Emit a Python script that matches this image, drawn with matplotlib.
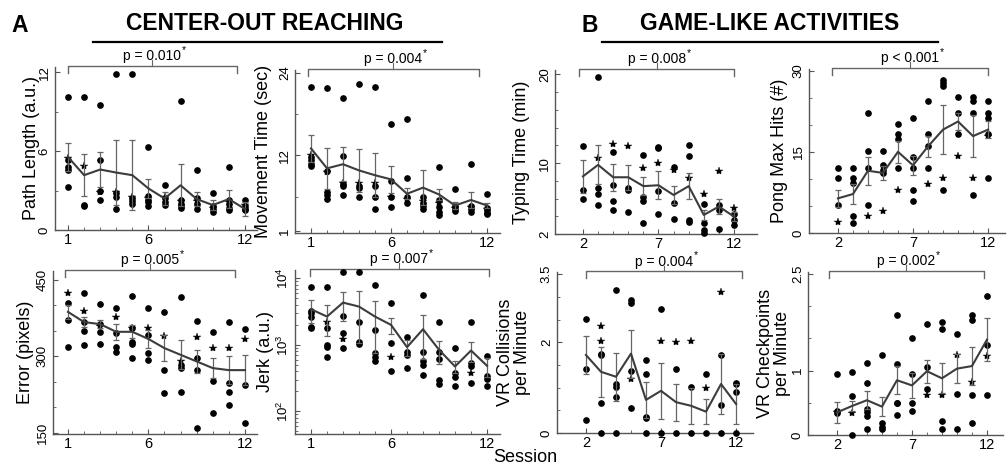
import matplotlib
matplotlib.use("Agg")
import matplotlib.pyplot as plt
import matplotlib.transforms as mtrans
from matplotlib.ticker import FixedLocator

plt.rcParams['font.family'] = ['Liberation Sans', 'DejaVu Sans']
plt.rcParams['mathtext.fontset'] = 'custom'
plt.rcParams['mathtext.rm'] = 'Liberation Sans'
plt.rcParams['mathtext.it'] = 'Liberation Sans:italic'

# ---------------- data ----------------
sessions_a = [1, 2, 3, 4, 5, 6, 7, 8, 9, 10, 11, 12]
sessions_b = [2, 3, 4, 5, 6, 7, 8, 9, 10, 11, 12]
xticks_a = [1, 6, 12]
xticks_b = [2, 7, 12]

# Path length
path_mean = [5.55, 4.17, 4.6, 4.37, 4.17, 3.16, 2.4, 3.4, 2.35, 1.9, 2.35, 1.6]
path_sem = [1.05, 1.6, 1.35, 2.5, 2.65, 0.75, 0.5, 1.6, 0.55, 0.4, 0.7, 0.55]
path_dots = [[10.1, 5.3, 4.8, 4.6, 3.3], [10.1, 1.9, 1.8], [9.5, 5.3, 3.0, 2.3],
             [11.9, 2.8, 2.5, 1.6], [11.9, 2.4, 2.2, 2.0], [6.3, 2.6, 2.3, 2.1, 1.8],
             [3.4, 2.4, 2.1, 1.9], [9.85, 2.3, 2.0, 1.8, 1.7], [4.55, 2.4, 2.0, 1.6],
             [2.8, 1.8, 1.6, 1.4], [4.8, 2.3, 2.0, 1.7, 1.5], [2.3, 1.8, 1.6, 1.5]]
path_stars = [[5.5], [4.9], [2.9], [2.9], [2.5], [2.4], [2.5], [2.2], [2.2], [1.7], [2.1], [1.9]]
path_yticks = [0, 6, 12]
path_yticklabels = ["0", "6", "12"]
path_p = "p = 0.010"

# Movement time
move_mean = [13.0, 10.1, 10.7, 9.8, 9.1, 8.5, 6.4, 7.3, 6.3, 4.7, 5.5, 4.7]
move_sem = [2.0, 3.0, 2.5, 3.1, 3.2, 2.0, 0.8, 2.5, 0.85, 0.5, 1.15, 0.4]
move_dots = [[21.9, 11.8, 11.3, 10.8, 10.5], [21.8, 9.7, 6.7, 6.2, 5.7], [20.3, 11.9, 7.8, 7.5, 6.2],
             [22.3, 7.5, 7.2, 5.9], [22.0, 7.5, 5.9, 4.2], [16.6, 8.3, 5.9, 4.5],
             [17.3, 8.7, 6.0, 5.0], [6.0, 5.0, 4.6, 4.2], [10.3, 5.5, 4.5, 3.8, 3.3],
             [7.1, 4.6, 4.2, 3.9], [10.7, 4.6, 4.2, 3.8], [6.3, 4.4, 4.0, 3.6, 3.4]]
move_stars = [[12.0], [9.6], [8.0], [8.0], [8.0], [6.0], [5.6], [5.4], [5.0], [4.3], [4.5], [4.2]]
move_yticks = [1, 12, 24]
move_yticklabels = ["1", "12", "24"]
move_p = "p = 0.004"

# Typing time
type_mean = [8.5, 9.8, 8.4, 8.4, 7.4, 7.5, 6.4, 7.4, 4.15, 5.1, 3.96]
type_sem = [1.9, 2.2, 1.5, 1.4, 1.0, 1.6, 1.0, 1.5, 0.6, 0.8, 0.5]
type_dots = [[11.9, 7.0, 6.0], [19.7, 7.2, 6.5, 5.3], [11.2, 7.5, 5.7, 4.7], [7.2, 7.0, 4.5],
             [10.9, 6.2, 5.7, 3.2], [11.8, 11.7, 6.8, 4.3], [9.6, 5.5, 3.7], [12.0, 10.8, 3.6, 3.4],
             [5.4, 3.2, 2.5, 2.15], [5.3, 4.7, 2.6], [4.3, 3.6, 3.0]]
type_stars = [[], [10.6], [12.1], [11.9], [9.4], [10.0], [9.2], [8.3], [6.5], [9.1], [4.9]]
type_yticks = [2, 10, 20]
type_yticklabels = ["2", "10", "20"]
type_p = "p = 0.008"

# Pong max hits
pong_mean = [6.4, 7.2, 11.5, 11.1, 15.0, 12.5, 16.0, 19.1, 20.6, 17.9, 19.1]
pong_sem = [1.6, 1.8, 2.6, 1.3, 2.0, 1.7, 2.0, 4.5, 1.5, 3.9, 1.6]
pong_dots = [[12.1, 10.2, 5.1], [12.1, 10.2, 9.2, 3.1, 1.9], [22.2, 15.2, 12.1, 5.1],
             [15.2, 12.5, 11.6, 11.0], [20.2, 18.3, 17.3, 12.1], [21.2, 14.1, 12.1, 8.0, 5.9],
             [24.3, 18.3, 16.0, 12.1], [28.3, 27.7, 27.2, 7.9], [25.2, 22.2, 18.3],
             [25.2, 24.3, 22.2, 7.0], [24.3, 22.2, 21.2, 18.3, 10.2]]
pong_stars = [[2.0], [], [3.1], [4.1], [8.0], [], [9.1], [10.2], [14.2], [10.2], [18.0]]
pong_yticks = [0, 15, 30]
pong_yticklabels = ["0", "15", "30"]
pong_p = "p < 0.001"

# Error
err_mean = [387, 367, 363, 348, 348, 334, 316, 303, 290, 277, 273, 273]
err_sem = [13, 10, 8, 16, 13, 17, 26, 28, 23, 20, 27, 30]
err_dots = [[405, 372, 318], [424, 367, 350, 323], [402, 364, 348, 325], [395, 345, 318, 309],
            [418, 356, 329, 325, 296], [394, 342, 307, 292], [387, 273, 229], [416, 283, 277, 231],
            [369, 296, 273, 160], [348, 251, 189], [367, 247, 231, 205], [353, 243, 169]]
err_stars = [[423], [388], [360], [377], [355], [355], [340], [290], [338], [316], [316], [333]]
err_yticks = [150, 300, 450]
err_yticklabels = ["150", "300", "450"]
err_p = "p = 0.005"

# Jerk
jerk_mean = [3430, 2660, 4315, 3760, 2660, 1995, 923, 1718, 842, 473, 822, 484]
jerk_sem = [1300, 1320, 2000, 2700, 1900, 520, 240, 1100, 320, 90, 270, 150]
jerk_dots = [[7330, 3270, 2990, 2660, 1880, 1780], [7500, 1780, 1000, 944, 653],
             [12590, 2720, 1500, 891], [12590, 2240, 1122, 1035], [7940, 1680, 750, 668, 562],
             [4315, 1059, 398], [1303, 794, 708, 447], [5620, 794, 562, 501, 355],
             [2240, 794, 610, 298, 260], [891, 376, 327, 237], [2240, 531, 484, 266],
             [684, 343, 305, 243]]
jerk_stars = [[], [2200], [1216], [], [], [653], [], [], [], [], [376], []]
jerk_yticks = [100, 1000, 10000]
jerk_yticklabels = ["$10^2$", "$10^3$", "$10^4$"]
jerk_p = "p = 0.007"

# VR collisions
coll_mean = [1.72, 1.35, 1.24, 1.75, 0.73, 0.93, 0.68, 0.6, 0.47, 1.08, 0.64]
coll_sem = [0.41, 0.55, 0.53, 0.53, 0.4, 0.62, 0.41, 0.4, 0.27, 0.67, 0.44]
coll_dots = [[2.52, 1.42, 0.29], [1.75, 1.72, 0.66, 0], [3.15, 1.08, 1.02, 0.8, 0],
             [2.93, 2.86, 1.37, 0.55], [1.62, 1.3, 0.36, 0.33, 0], [2.74, 0], [1.42, 0],
             [1.02, 0], [1.31, 0], [1.72, 0.62, 0], [1.11, 1.07, 0.91, 0]]
coll_stars = [[], [2.37, 2.03], [], [1.18], [], [2.02], [2.0], [2.03], [1.0], [3.12], []]
coll_yticks = [0, 2, 3.5]
coll_yticklabels = ["0", "2", "3.5"]
coll_p = "p = 0.004"

# VR checkpoints
chk_mean = [0.35, 0.45, 0.54, 0.44, 0.85, 0.77, 0.99, 0.88, 1.03, 1.07, 1.48]
chk_sem = [0.16, 0.08, 0.14, 0.15, 0.22, 0.2, 0.18, 0.23, 0.22, 0.29, 0.33]
chk_dots = [[0.94, 0.38, 0.34], [0.98, 0.6, 0.0], [1.12, 0.8, 0.41, 0.36, 0.29, 0.1],
            [1.24, 0.19, 0.13, 0.09], [1.87, 1.1, 0.5, 0.49, 0.31], [1.51, 0.94, 0.5, 0.38],
            [1.72, 1.05, 0.71], [1.76, 1.65, 0.21, 0.1], [1.57, 0.63, 0.1],
            [1.86, 1.79, 0.62, 0.19], [2.15, 1.39, 0.62]]
chk_stars = [[0.35], [0.34], [], [], [], [], [0.62], [0.62], [1.24], [0.82], [1.22]]
chk_yticks = [0, 1, 2.5]
chk_yticklabels = ["0", "1", "2.5"]
chk_p = "p = 0.002"

# ---------------- layout (pixels) ----------------
W, H = 1008, 466
fig = plt.figure(figsize=(W / 100, H / 100), dpi=100)

panels = [
    dict(rect=(55, 257, 67, 230), sess=sessions_a, xt=xticks_a, mean=path_mean, sem=path_sem,
         dots=path_dots, stars=path_stars, yt=path_yticks, ytl=path_yticklabels, p=path_p,
         xlim=(0.19, 12.75), ylim=(0, 12.4), ylabel="Path Length (a.u.)", lx=32, br=(1.0, 11.5),
         minor=[3, 9]),
    dict(rect=(295, 500, 70, 233), sess=sessions_a, xt=xticks_a, mean=move_mean, sem=move_sem,
         dots=move_dots, stars=move_stars, yt=move_yticks, ytl=move_yticklabels, p=move_p,
         xlim=(0.0, 12.81), ylim=(0.7, 24.4), ylabel="Movement Time (sec)", lx=263, br=(0.8, 11.5),
         minor=[6, 18]),
    dict(rect=(555, 757, 70, 234), sess=sessions_b, xt=xticks_b, mean=type_mean, sem=type_sem,
         dots=type_dots, stars=type_stars, yt=type_yticks, ytl=type_yticklabels, p=type_p,
         xlim=(0.15, 13.52), ylim=(2, 20.5), ylabel="Typing Time (min)", lx=521, br=(1.75, 12.0),
         minor=[4, 6, 8, 12, 14, 16, 18]),
    dict(rect=(809, 1005, 69, 233), sess=sessions_b, xt=xticks_b, mean=pong_mean, sem=pong_sem,
         dots=pong_dots, stars=pong_stars, yt=pong_yticks, ytl=pong_yticklabels, p=pong_p,
         xlim=(0.07, 13.13), ylim=(0, 30.3), ylabel="Pong Max Hits (#)", lx=780, br=(1.6, 12.0),
         minor=[5, 10, 20, 25]),
    dict(rect=(53, 257, 271, 434), sess=sessions_a, xt=xticks_a, mean=err_mean, sem=err_sem,
         dots=err_dots, stars=err_stars, yt=err_yticks, ytl=err_yticklabels, p=err_p,
         xlim=(0.07, 12.75), ylim=(148, 467), ylabel="Error (pixels)", lx=25, br=(0.8, 11.4),
         minor=[200, 250, 350, 400]),
    dict(rect=(295, 500, 270, 434), sess=sessions_a, xt=xticks_a, mean=jerk_mean, sem=jerk_sem,
         dots=jerk_dots, stars=jerk_stars, yt=jerk_yticks, ytl=jerk_yticklabels, p=jerk_p,
         xlim=(0.0, 12.81), ylim=(45.7, 13335), ylabel="Jerk (a.u.)", lx=266, br=(0.95, 12.1),
         minor=None, log=True),
    dict(rect=(557, 753, 272, 433), sess=sessions_b, xt=xticks_b, mean=coll_mean, sem=coll_sem,
         dots=coll_dots, stars=coll_stars, yt=coll_yticks, ytl=coll_yticklabels, p=coll_p,
         xlim=(0.07, 13.13), ylim=(0, 3.55), ylabel="VR Collisions\nper Minute", lx=514, br=(2.0, 12.4),
         minor=[0.5, 1, 1.5, 2.5, 3]),
    dict(rect=(808, 1003, 272, 435), sess=sessions_b, xt=xticks_b, mean=chk_mean, sem=chk_sem,
         dots=chk_dots, stars=chk_stars, yt=chk_yticks, ytl=chk_yticklabels, p=chk_p,
         xlim=(0.07, 13.07), ylim=(0, 2.53), ylabel="VR Checkpoints\nper Minute", lx=774, br=(1.47, 11.8),
         minor=[0.5, 1.5, 2]),
]

AX_COL = '#555555'
LINE_COL = '#3c3c3c'

for P in panels:
    l, r, t, b = P['rect']
    ax = fig.add_axes([l / W, 1 - b / H, (r - l) / W, (b - t) / H])
    if P.get('log'):
        ax.set_yscale('log')
    sess = P['sess']
    xs, ys = [], []
    for s, vals in zip(sess, P['dots']):
        xs += [s] * len(vals)
        ys += vals
    ax.plot(xs, ys, 'o', ms=3.8, color='black', mec='black', clip_on=False, zorder=3)
    xs, ys = [], []
    for s, vals in zip(sess, P['stars']):
        xs += [s] * len(vals)
        ys += vals
    ax.plot(xs, ys, '*', ms=6, color='black', mec='black', mew=0.3, clip_on=False, zorder=3)
    ax.errorbar(sess, P['mean'], yerr=P['sem'], fmt='none', ecolor='#666666',
                elinewidth=0.9, capsize=2, capthick=0.9, zorder=4)
    ax.plot(sess, P['mean'], '-', color=LINE_COL, lw=1.5, zorder=5)

    ax.set_xlim(*P['xlim'])
    ax.set_ylim(*P['ylim'])
    ax.set_xticks(P['xt'])
    ax.set_xticks(sess, minor=True)
    ax.set_yticks(P['yt'])
    ax.set_yticklabels(P['ytl'])
    if P['minor'] is not None:
        ax.yaxis.set_minor_locator(FixedLocator(P['minor']))
    else:
        ax.yaxis.set_minor_locator(FixedLocator(
            [v * 10 ** e for e in (1, 2, 3) for v in range(2, 10)]))
    ax.yaxis.set_minor_formatter(plt.NullFormatter())
    for sp in ('top', 'right'):
        ax.spines[sp].set_visible(False)
    for sp in ('left', 'bottom'):
        ax.spines[sp].set_color(AX_COL)
        ax.spines[sp].set_linewidth(1.0)
    ax.tick_params(axis='both', which='major', direction='in', length=3.5, width=0.8,
                   color=AX_COL, labelcolor='black')
    ax.tick_params(axis='both', which='minor', direction='in', length=2, width=0.6, color=AX_COL)
    ax.tick_params(axis='x', labelsize=10.5, pad=2)
    ax.tick_params(axis='y', labelsize=9.5, pad=3, labelrotation=90)
    for lab in ax.get_yticklabels():
        lab.set_va('center')
    ax.patch.set_alpha(0)

    # significance bracket
    tr = mtrans.blended_transform_factory(ax.transData, ax.transAxes)
    x0, x1 = P['br']
    yb = 1.006
    ax.plot([x0, x0, x1, x1], [0.965, yb, yb, 0.965], color='#666666', lw=1.0,
            transform=tr, clip_on=False)
    xm = (x0 + x1) / 2
    ax.plot([xm, xm], [yb, 1.04], color='#666666', lw=0.8, transform=tr, clip_on=False)
    ptxt = ax.text(xm, 1.04, P['p'], transform=tr, ha='center', va='baseline', fontsize=10)
    ax.annotate("*", xy=(1.0, 0.62), xycoords=ptxt, xytext=(0.5, 0),
                textcoords='offset points', ha='left', va='bottom', fontsize=7.5)

    fig.text(P['lx'] / W, 1 - ((t + b) / 2) / H, P['ylabel'], rotation=90,
             ha='center', va='center', fontsize=13, linespacing=1.05)

# headers
fig.text(19.5 / W, 1 - 25.5 / H, "A", fontsize=16.5, fontweight='bold', ha='center', va='center')
fig.text(590 / W, 1 - 25.5 / H, "B", fontsize=16.5, fontweight='bold', ha='center', va='center')
fig.text(265 / W, 1 - 24 / H, "CENTER-OUT REACHING", fontsize=16.5, fontweight='bold',
         ha='center', va='center')
fig.text(770 / W, 1 - 24 / H, "GAME-LIKE ACTIVITIES", fontsize=16.5, fontweight='bold',
         ha='center', va='center')
fig.add_artist(plt.Line2D([93 / W, 442 / W], [1 - 42 / H, 1 - 42 / H], color='black', lw=1.6))
fig.add_artist(plt.Line2D([602 / W, 938 / W], [1 - 42 / H, 1 - 42 / H], color='black', lw=1.6))
fig.text(525 / W, 1 - 458 / H, "Session", fontsize=13, ha='center', va='center')

fig.savefig("out.png", dpi=100)
